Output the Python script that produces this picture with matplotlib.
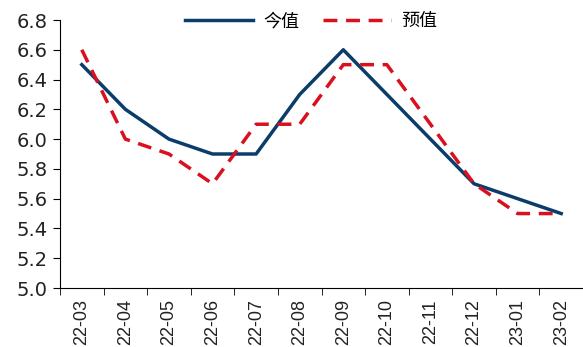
import matplotlib
matplotlib.use('Agg')
import matplotlib.pyplot as plt

plt.rcParams['font.family'] = ['Noto Sans CJK SC', 'DejaVu Sans']

months = ['22-03', '22-04', '22-05', '22-06', '22-07', '22-08',
          '22-09', '22-10', '22-11', '22-12', '23-01', '23-02']
actual = [6.5, 6.2, 6.0, 5.9, 5.9, 6.3, 6.6, 6.3, 6.0, 5.7, 5.6, 5.5]
forecast = [6.6, 6.0, 5.9, 5.7, 6.1, 6.1, 6.5, 6.5, 6.1, 5.7, 5.5, 5.5]

fig = plt.figure(figsize=(5.83, 3.47), dpi=100)
ax = fig.add_axes([60 / 583, 1 - 288 / 347, 1 - 60 / 583, 268 / 347])

x = range(len(months))
ax.plot(x, actual, color='#0b3d6b', lw=2.5, label='今值')
ax.plot(x, forecast, color='#d9101e', lw=2.5, ls=(0, (4, 2.5)), label='预值')

ax.set_ylim(5.0, 6.8)
ax.set_yticks([5.0 + 0.2 * i for i in range(10)])
ax.set_yticklabels(['%.1f' % (5.0 + 0.2 * i) for i in range(10)],
                   fontsize=14, family='DejaVu Sans', color='#222222')
ax.set_xlim(-0.5, len(months) - 0.5)
ax.set_xticks(x)
ax.set_xticklabels(months, rotation=90, fontsize=13, family='Liberation Sans',
                   color='#222222')
ax.tick_params(axis='x', which='major', length=0, pad=8)
ax.set_xticks([i - 0.5 for i in range(len(months) + 1)], minor=True)
ax.tick_params(axis='x', which='minor', length=5, direction='out')
ax.tick_params(axis='y', length=5, direction='out', pad=4)

for s in ['top', 'right']:
    ax.spines[s].set_visible(False)

ax.legend(loc='upper center', bbox_to_anchor=(0.48, 1.09), ncol=2, frameon=False,
          fontsize=13, handlelength=3.8, handletextpad=0.55, columnspacing=1.3)

fig.savefig('out.png', dpi=100)
